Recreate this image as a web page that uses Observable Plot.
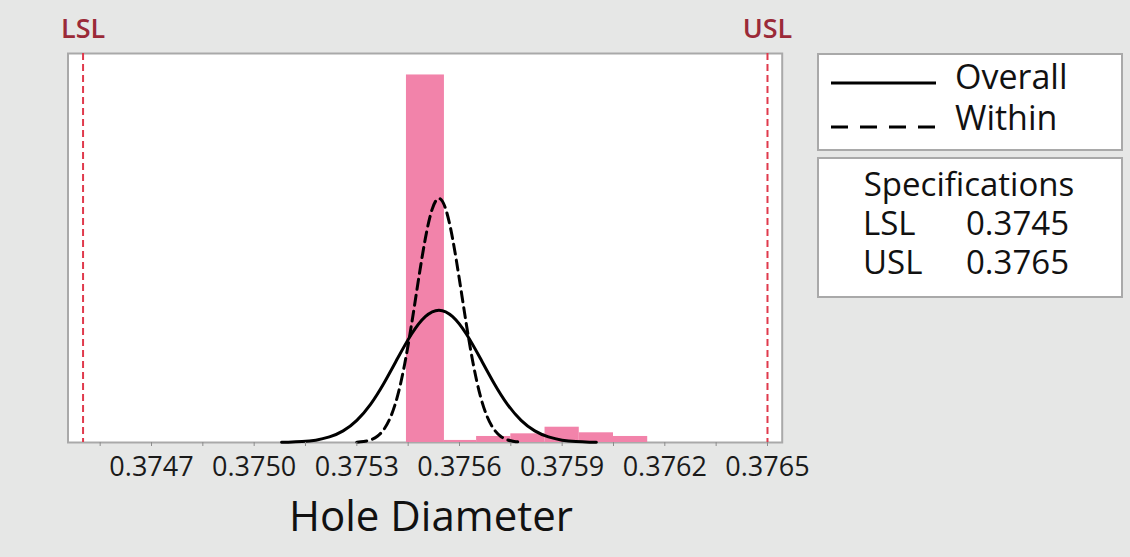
<!DOCTYPE html>
<html>
<head>
<meta charset="utf-8">
<script src="https://cdn.jsdelivr.net/npm/d3@7"></script>
<script src="https://cdn.jsdelivr.net/npm/@observablehq/plot@0.6"></script>
<style>
  html, body { margin: 0; padding: 0; background: #e6e7e6; }
  #chart { width: 1130px; height: 557px; overflow: hidden; }
</style>
</head>
<body>
<div id="chart"></div>
<script>
// ---- data ----
const specLabels = ["LSL", "USL"];
const specValues = [0.3745, 0.3765];

const binStart = [0.375445, 0.375556, 0.37565, 0.37575, 0.37585, 0.37595, 0.37605];
const binEnd   = [0.375556, 0.37565, 0.37575, 0.37585, 0.37595, 0.37605, 0.37615];
const binCount = [250, 1.4, 4.1, 5.9, 10.4, 6.6, 4.1];

const overallX = [0.37508,0.37510,0.37514,0.37518,0.37522,0.37526,0.37530,0.37534,0.37538,0.37542,0.37546,0.37550,0.37554,0.37558,0.37562,0.37566,0.37570,0.37574,0.37578,0.37582,0.37586,0.37590,0.37594,0.37598,0.37600];
const overallY = [0.13,0.22,0.63,1.6,3.8,7.9,15.1,26.0,40.7,57.6,73.8,85.6,90,85.6,73.8,57.6,40.7,26.0,15.1,7.9,3.8,1.6,0.63,0.22,0.13];

const withinX = [0.37530,0.37532,0.37534,0.37536,0.37538,0.37540,0.37542,0.37544,0.37546,0.37548,0.37550,0.37552,0.37554,0.37556,0.37558,0.37560,0.37562,0.37564,0.37566,0.37568,0.37570,0.37572,0.37574,0.37576,0.37578];
const withinY = [0.25,0.70,1.8,4.25,9.2,18.1,32.5,53.6,80.5,110.5,138.5,158.6,166,158.6,138.5,110.5,80.5,53.6,32.5,18.1,9.2,4.25,1.8,0.70,0.25];

const majorTicks = [0.3747, 0.3750, 0.3753, 0.3756, 0.3759, 0.3762, 0.3765];
const minorTicks = [0.37455, 0.37485, 0.37515, 0.37545, 0.37575, 0.37605, 0.37635];

const xTitle = "Hole Diameter";
const legendNames = ["Overall", "Within"];
const specTitle = "Specifications";
const specValueLabels = ["0.3745", "0.3765"];

// ---- tables for the library ----
const bins = binStart.map((s, i) => ({x1: s, x2: binEnd[i], y: binCount[i]}));
const overall = overallX.map((x, i) => ({x, y: overallY[i]}));
const within = withinX.map((x, i) => ({x, y: withinY[i]}));
const specs = specLabels.map((l, i) => ({label: l, x: specValues[i]}));

const font = "'Open Sans', 'Noto Sans', sans-serif";

const svg = Plot.plot({
  width: 1130,
  height: 557,
  marginLeft: 67.5,
  marginRight: 348.3,
  marginTop: 53,
  marginBottom: 115,
  style: {background: "transparent", fontFamily: font, overflow: "visible"},
  x: {domain: [0.374456, 0.376543], label: null},
  y: {domain: [0, 264.6], axis: null},
  marks: [
    Plot.frame({fill: "white", stroke: "#a9a9a9", strokeWidth: 2}),
    Plot.rectY(bins, {x1: "x1", x2: "x2", y: "y", fill: "#f283aa", inset: 0}),
    Plot.ruleX(specs, {x: "x", stroke: "#e03a4c", strokeWidth: 2, strokeDasharray: "7,4"}),
    Plot.text(specs, {x: "x", text: "label", frameAnchor: "top", dy: -16, lineAnchor: "bottom",
      fill: "#9b2a38", fontSize: 27, fontWeight: 600}),
    Plot.line(within, {x: "x", y: "y", curve: "natural", stroke: "black", strokeWidth: 3, strokeDasharray: "10,6"}),
    Plot.line(overall, {x: "x", y: "y", curve: "natural", stroke: "black", strokeWidth: 3}),
    Plot.axisX(minorTicks, {tickSize: 4, tickFormat: () => "", stroke: "#8c8c8c", label: null}),
    Plot.axisX(majorTicks, {tickSize: 4, tickPadding: 10, tickFormat: d3.format(".4f"),
      fontSize: 27, stroke: "#8c8c8c", fill: "#1a1a1a", label: null})
  ]
});

const root = d3.select(svg);
// x title
root.append("text")
  .attr("x", 431).attr("y", 531)
  .attr("text-anchor", "middle")
  .attr("font-family", font).attr("font-size", 42).attr("font-weight", 500)
  .attr("fill", "#111")
  .text(xTitle);

// legend box 1
const lg = root.append("g").attr("font-family", font).attr("fill", "#111").attr("text-anchor", "start");
lg.append("rect").attr("x", 818).attr("y", 54).attr("width", 304).attr("height", 96)
  .attr("fill", "white").attr("stroke", "#a9a9a9").attr("stroke-width", 2);
lg.append("line").attr("x1", 831).attr("x2", 936).attr("y1", 83).attr("y2", 83)
  .attr("stroke", "black").attr("stroke-width", 3);
lg.append("line").attr("x1", 831).attr("x2", 936).attr("y1", 127).attr("y2", 127)
  .attr("stroke", "black").attr("stroke-width", 3).attr("stroke-dasharray", "17,12");
lg.append("text").attr("x", 955).attr("y", 89).attr("text-anchor", "start").attr("font-size", 34).attr("font-weight", 500).text(legendNames[0]);
lg.append("text").attr("x", 955).attr("y", 130).attr("text-anchor", "start").attr("font-size", 34).attr("font-weight", 500).text(legendNames[1]);

// legend box 2
lg.append("rect").attr("x", 818).attr("y", 158).attr("width", 304).attr("height", 139)
  .attr("fill", "white").attr("stroke", "#a9a9a9").attr("stroke-width", 2);
lg.append("text").attr("x", 969).attr("y", 196).attr("text-anchor", "middle")
  .attr("font-size", 33).attr("font-weight", 500).text(specTitle);
specLabels.forEach((l, i) => {
  const yb = 235 + i * 39;
  lg.append("text").attr("x", 863).attr("y", yb).attr("text-anchor", "start").attr("font-size", 33).attr("font-weight", 500).text(l);
  lg.append("text").attr("x", 966).attr("y", yb).attr("text-anchor", "start").attr("font-size", 33).attr("font-weight", 500).text(specValueLabels[i]);
});

document.getElementById("chart").appendChild(svg);
</script>
</body>
</html>
